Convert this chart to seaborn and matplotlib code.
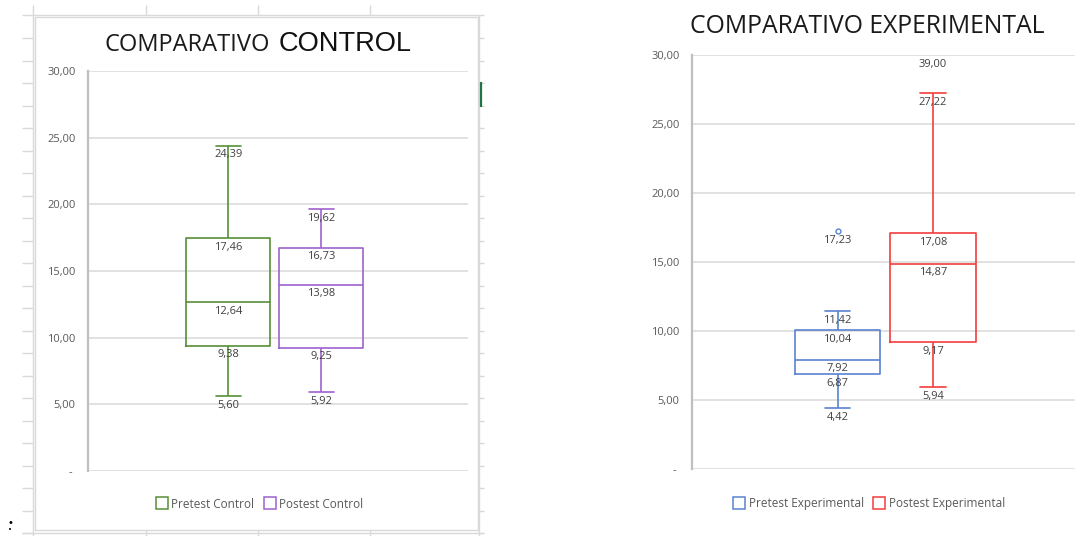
import numpy as np
import pandas as pd
import matplotlib
matplotlib.use("Agg")
import matplotlib.pyplot as plt
from matplotlib.lines import Line2D
from matplotlib.patches import Rectangle
from matplotlib.ticker import MultipleLocator
import seaborn as sns

# ---------------- data ----------------
control_groups = ["Pretest Control", "Postest Control"]
pretest_control = [5.60, 9.38, 12.64, 17.46, 24.39]
postest_control = [5.92, 9.25, 13.98, 16.73, 19.62]

exp_groups = ["Pretest Experimental", "Postest Experimental"]
pretest_experimental = [4.42, 6.87, 6.87, 7.92, 7.92, 10.04, 10.04, 11.42, 17.23]
postest_experimental = [5.94, 9.17, 9.17, 14.87, 14.87, 17.08, 17.08, 27.22, 39.00]

# data labels shown on the chart (whiskers, quartiles, median, outliers)
pretest_control_labels = [24.39, 17.46, 12.64, 9.38, 5.60]
postest_control_labels = [19.62, 16.73, 13.98, 9.25, 5.92]
pretest_experimental_labels = [17.23, 11.42, 10.04, 7.92, 6.87, 4.42]
postest_experimental_labels = [39.00, 27.22, 17.08, 14.87, 9.17, 5.94]

y_ticks = [0, 5, 10, 15, 20, 25, 30]
y_max = 30

control_colors = ["#568F37", "#9E62CF"]
exp_colors = ["#5B83D0", "#F43C3C"]

# ---------------- figure ----------------
W, H = 1075, 536
sns.set_style("white")
plt.rcParams["font.family"] = ["Open Sans", "DejaVu Sans"]

fig = plt.figure(figsize=(W / 100, H / 100), dpi=100)
fig.patch.set_facecolor("white")


def fx(x):
    return x / W


def fy(y):
    return 1 - y / H


def px_line(x0, y0, x1, y1, color="#D9D9D9", lw=1.0):
    fig.add_artist(Line2D([fx(x0), fx(x1)], [fy(y0), fy(y1)],
                          transform=fig.transFigure, color=color, lw=lw,
                          solid_capstyle="butt", zorder=-2))


# spreadsheet background around the left chart
for yy in np.arange(38.3, 536, 22.5):
    px_line(22, yy, 33, yy)
    px_line(479, yy, 484, yy)
px_line(22, 15, 484, 15)
px_line(33, 5, 33, 536)
px_line(479, 15, 479, 536)
for xx in [146, 258, 370]:
    px_line(xx, 5, xx, 15)
    px_line(xx, 530, xx, 536)
px_line(22, 532.5, 484, 532.5)
# chart area of left chart
fig.add_artist(Rectangle((fx(35), fy(530)), fx(478) - fx(35), fy(16.5) - fy(530),
                         transform=fig.transFigure, facecolor="white",
                         edgecolor="#D9D9D9", lw=1.0, zorder=-1))
px_line(481, 82, 481, 107, color="#217346", lw=1.6)
fig.text(fx(10), fy(523), "\u2022", fontsize=7, ha="center", va="center",
         family="DejaVu Sans", color="black")
fig.text(fx(10), fy(530.5), "\u2022", fontsize=5, ha="center", va="center",
         family="DejaVu Sans", color="black")


def fmt(v):
    return f"{v:.2f}".replace(".", ",")


def draw(ax, groups, samples, labels, colors, xlim):
    df = pd.DataFrame({
        "group": np.repeat(groups, [len(s) for s in samples]),
        "value": np.concatenate([np.asarray(s, float) for s in samples]),
    })
    sns.boxplot(data=df, x="group", y="value", hue="group", order=groups,
                hue_order=groups, palette=colors, fill=False, width=0.9,
                linewidth=1.2, capwidths=0.27, fliersize=3.5,
                flierprops=dict(marker="o", markerfacecolor="none",
                                markeredgewidth=1.0),
                legend=False, ax=ax, zorder=3)
    ax.set_ylim(0, y_max)
    ax.set_xlim(*xlim)
    ax.set_xlabel("")
    ax.set_ylabel("")
    ax.set_xticks([])
    ax.set_yticks(y_ticks)
    ax.set_yticklabels(["- " if t == 0 else fmt(t) for t in y_ticks])
    ax.yaxis.set_minor_locator(MultipleLocator(1))
    ax.tick_params(axis="y", which="major", direction="out", length=4,
                   width=1.1, color="#BFBFBF", labelsize=8,
                   labelcolor="#595959", pad=5)
    ax.tick_params(axis="y", which="minor", direction="in", length=4,
                   width=1.0, color="#C4C4C4")
    ax.yaxis.grid(True, which="major", color="#D9D9D9", lw=1.1)
    ax.set_axisbelow(True)
    for s in ["top", "right", "bottom"]:
        ax.spines[s].set_visible(False)
    ax.spines["left"].set_color("#BFBFBF")
    ax.spines["left"].set_linewidth(1.6)
    ax.set_facecolor("none")
    for i, labs in enumerate(labels):
        for v in labs:
            ax.annotate(fmt(v), xy=(i, min(v, y_max)), xytext=(0, -6.5),
                        textcoords="offset points", ha="center", va="center",
                        fontsize=8, color="#404040", annotation_clip=False,
                        zorder=5)


ax1 = fig.add_axes([fx(88), fy(471), fx(468) - fx(88), fy(71) - fy(471)])
draw(ax1, control_groups, [pretest_control, postest_control],
     [pretest_control_labels, postest_control_labels], control_colors,
     (-1.51, 2.58))

ax2 = fig.add_axes([fx(692), fy(469), 1 - fx(692), fy(55) - fy(469)])
draw(ax2, exp_groups, [pretest_experimental, postest_experimental],
     [pretest_experimental_labels, postest_experimental_labels], exp_colors,
     (-1.524, 2.487))

# titles
fig.text(fx(270), fy(51), "COMPARATIVO", ha="right", va="baseline",
         fontsize=17, color="#1A1A1A", family="Open Sans")
fig.text(fx(279), fy(51), "CONTROL", ha="left", va="baseline",
         fontsize=19.6, color="#111111", family="Liberation Sans")
fig.text(fx(867), fy(33), "COMPARATIVO EXPERIMENTAL", ha="center",
         va="baseline", fontsize=17.8, color="#1A1A1A", family="Open Sans")


def legend(groups, colors, cx):
    handles = [Line2D([], [], marker="s", ls="none", markersize=8,
                      markerfacecolor="white", markeredgecolor=c,
                      markeredgewidth=1.1) for c in colors]
    fig.legend(handles, groups, loc="center", bbox_to_anchor=(fx(cx), fy(504)),
               ncol=2, frameon=False, fontsize=8.5, handletextpad=0.3,
               columnspacing=0.8, labelcolor="#595959", handlelength=1.0,
               borderpad=0, borderaxespad=0)


legend(control_groups, control_colors, 259.5)
legend(exp_groups, exp_colors, 869)

fig.savefig("out.png", dpi=100, facecolor="white")
